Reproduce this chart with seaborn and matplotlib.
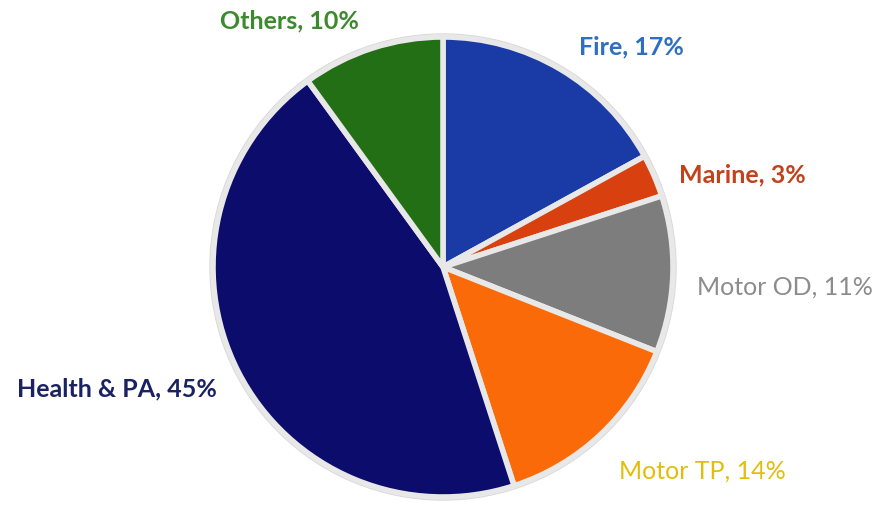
import matplotlib
matplotlib.use("Agg")
import seaborn as sns
from matplotlib import pyplot as plt

# data
categories = ['Fire', 'Marine', 'Motor OD', 'Motor TP', 'Health & PA', 'Others']
shares = [17, 3, 11, 14, 45, 10]

sns.set_theme(style='white')
plt.rcParams['font.family'] = ['Lato', 'DejaVu Sans']

wedge_colors = ['#1a3aa6', '#d8400f', '#7d7d7d', '#fa6a08', '#0b0c6c', '#236f16']
text_colors = ['#2f6fc2', '#c2421c', '#8c8c8c', '#e2be0a', '#1b2262', '#3c8a2e']
text_weights = ['bold', 'bold', 'normal', 'normal', 'bold', 'bold']
# label anchors in pixel space (x, y from top)
label_pos = [(631, 47), (742, 175), (785, 287), (702, 471), (117, 389), (289, 21)]

fig = plt.figure(figsize=(8.78, 5.06), dpi=100)
ax = fig.add_axes([0, 0, 1, 1])

# soft shadow ring behind the pie
ax.add_patch(plt.Circle((443, 506 - 268), 233, color='#dadada', zorder=0))

ax.pie(
    shares,
    colors=wedge_colors,
    startangle=90,
    counterclock=False,
    center=(443, 506 - 268),
    radius=230,
    wedgeprops=dict(edgecolor='#e8e8e8', linewidth=4),
)

for cat, val, col, wt, (x, y) in zip(categories, shares, text_colors, text_weights, label_pos):
    ax.text(x, 506 - y, '{}, {}%'.format(cat, val), color=col, fontsize=18,
            fontweight=wt, ha='center', va='center')

ax.set_xlim(0, 878)
ax.set_ylim(0, 506)
ax.set_aspect('equal')
ax.axis('off')

fig.savefig('out.png', dpi=100, facecolor='white')
